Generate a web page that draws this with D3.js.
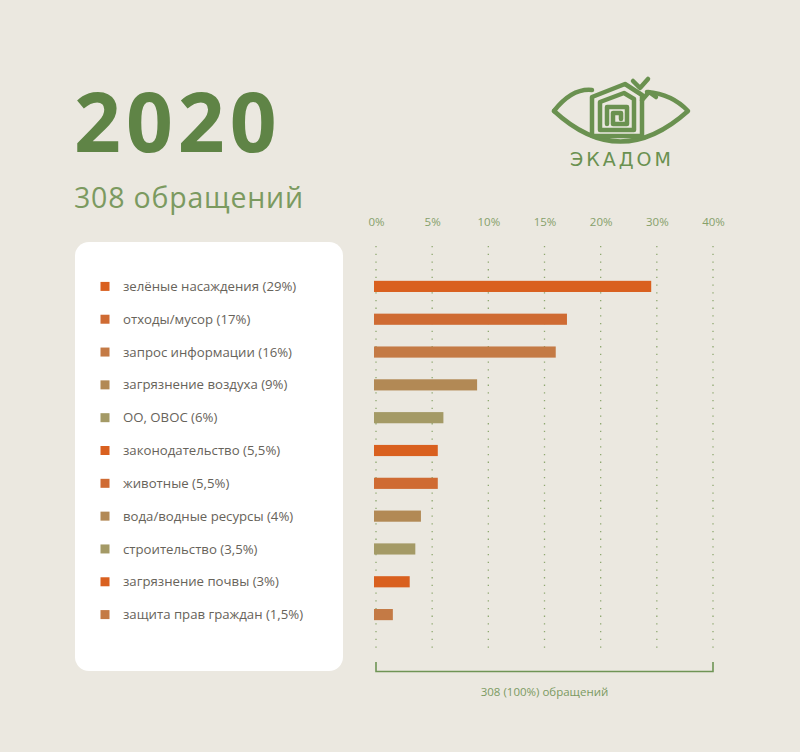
<!DOCTYPE html>
<html>
<head>
<meta charset="utf-8">
<script src="https://cdn.jsdelivr.net/npm/d3@7"></script>
<style>
  body { margin: 0; background: #ebe8e0; }
  svg { display: block; }
</style>
</head>
<body>
<svg id="svg" width="800" height="752"></svg>
<script>
// data
var categories = ["зелёные насаждения", "отходы/мусор", "запрос информации", "загрязнение воздуха",
  "ОО, ОВОС", "законодательство", "животные", "вода/водные ресурсы", "строительство",
  "загрязнение почвы", "защита прав граждан"];
var values = [29, 17, 16, 9, 6, 5.5, 5.5, 4, 3.5, 3, 1.5];
var valueLabels = ["29%", "17%", "16%", "9%", "6%", "5,5%", "5,5%", "4%", "3,5%", "3%", "1,5%"];
var ticks = [0, 5, 10, 15, 20, 30, 40];
var tickLabels = ["0%", "5%", "10%", "15%", "20%", "30%", "40%"];
var barColors = ["#d9601f", "#cf6b33", "#c47a45", "#b28955", "#a49a66", "#d9601f", "#cf6b33",
  "#b28955", "#a49a66", "#d9601f", "#c47a45"];
var year = "2020";
var total = "308 обращений";
var totalNote = "308 (100%) обращений";

var svg = d3.select("#svg");
var font = "Open Sans, sans-serif";

svg.append("rect").attr("width", 800).attr("height", 752).attr("fill", "#ebe8e0");

// title
svg.append("text")
  .attr("x", 74).attr("y", 152)
  .attr("font-family", font).attr("font-weight", 700)
  .attr("font-size", 82).attr("letter-spacing", 5)
  .attr("fill", "#5f8446")
  .text(year);

svg.append("text")
  .attr("x", 74).attr("y", 208)
  .attr("font-family", font).attr("font-weight", 400)
  .attr("font-size", 28.5).attr("letter-spacing", 0.8)
  .attr("fill", "#7b9a60")
  .text(total);

// logo
var logo = svg.append("g")
  .attr("fill", "none").attr("stroke", "#6a9150")
  .attr("stroke-width", 4.5).attr("stroke-linecap", "round").attr("stroke-linejoin", "round");
logo.append("path").attr("d", "M554,111 Q572,88 592,90");
logo.append("path").attr("d", "M647,92 Q672,94 688,111 Q620,172 554,111");
logo.append("path").attr("d", "M592,136 L592,97 L625,84 L642,95 L642,136 Z");
logo.append("path").attr("d", "M642,100 L649,92 L656,97");
logo.append("path").attr("d", "M633,81 L640,88 L648,79");
logo.append("path").attr("d", "M600,130 L600,102 L624,93 L634,99 L634,130 Z");
logo.append("path").attr("d", "M607,124 L607,107 L627,107 L627,124 L613,124 L613,113 L621,113 L621,119");
svg.append("text")
  .attr("x", 622).attr("y", 166)
  .attr("text-anchor", "middle")
  .attr("font-family", "DejaVu Sans, sans-serif")
  .attr("font-size", 19).attr("letter-spacing", 3)
  .attr("fill", "#6a9150")
  .text("ЭКАДОМ");

// legend box
svg.append("rect")
  .attr("x", 75).attr("y", 242).attr("width", 268).attr("height", 429)
  .attr("rx", 14).attr("fill", "#ffffff");

// scales
var x = d3.scaleLinear()
  .domain(ticks)
  .range(ticks.map(function (d, i) { return 376 + i * (713 - 376) / (ticks.length - 1); }));

var y = d3.scaleBand()
  .domain(categories)
  .range([270, 631])
  .paddingInner(0.66)
  .paddingOuter(0.33);

// grid
svg.append("g")
  .selectAll("line")
  .data(ticks)
  .enter().append("line")
  .attr("x1", function (d) { return x(d); })
  .attr("x2", function (d) { return x(d); })
  .attr("y1", 246).attr("y2", 652)
  .attr("stroke", "#8ea870")
  .attr("stroke-width", 1.3)
  .attr("stroke-dasharray", "1.3 6.4");

// axis
var axis = svg.append("g")
  .attr("transform", "translate(0,226)")
  .call(d3.axisTop(x).tickValues(ticks)
    .tickFormat(function (d, i) { return tickLabels[i]; })
    .tickSize(0).tickPadding(0));
axis.select(".domain").remove();
axis.selectAll("text")
  .attr("font-family", font).attr("font-size", 11.5)
  .attr("fill", "#86a06a").attr("dy", 0);

// bars
svg.append("g")
  .selectAll("rect")
  .data(values)
  .enter().append("rect")
  .attr("x", x(0) - 2)
  .attr("y", function (d, i) { return y(categories[i]); })
  .attr("width", function (d) { return x(d) - x(0) + 2; })
  .attr("height", y.bandwidth())
  .attr("fill", function (d, i) { return barColors[i]; });

// legend
var legend = svg.append("g")
  .selectAll("g")
  .data(categories)
  .enter().append("g")
  .attr("transform", function (d) { return "translate(0," + (y(d) + y.bandwidth() / 2) + ")"; });

legend.append("rect")
  .attr("x", 100.5).attr("y", -4.5)
  .attr("width", 9).attr("height", 9)
  .attr("fill", function (d, i) { return barColors[i]; });

legend.append("text")
  .attr("x", 123).attr("dy", "0.35em")
  .attr("font-family", font).attr("font-weight", 500)
  .attr("font-size", 13.2)
  .attr("fill", "#67635a")
  .text(function (d, i) { return d + " (" + valueLabels[i] + ")"; });

// bracket
svg.append("path")
  .attr("d", "M" + x(0) + ",662 V671.5 H" + x(40) + " V662")
  .attr("fill", "none").attr("stroke", "#6f9455").attr("stroke-width", 1.6);

svg.append("text")
  .attr("x", (x(0) + x(40)) / 2).attr("y", 696)
  .attr("text-anchor", "middle")
  .attr("font-family", font).attr("font-size", 11.5)
  .attr("fill", "#7b9a62")
  .text(totalNote);
</script>
</body>
</html>
